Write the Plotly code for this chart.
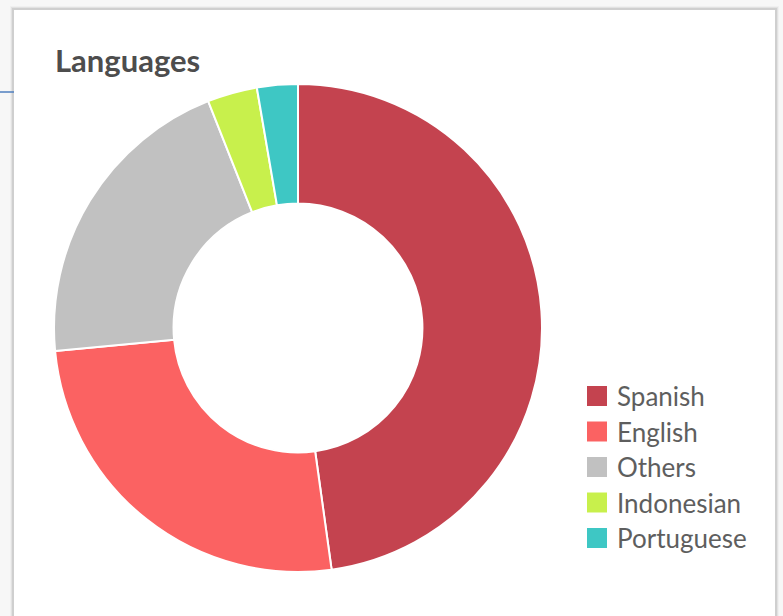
import plotly.graph_objects as go

languages = ["Spanish", "English", "Others", "Indonesian", "Portuguese"]
shares = [47.8, 25.7, 20.5, 3.3, 2.7]
colors = ["#c4434f", "#fb6262", "#c1c1c1", "#c8f04c", "#3ec7c4"]

W, H = 783, 616
cx, cy, r = 298, 328, 244

fig = go.Figure(go.Pie(
    labels=languages,
    values=shares,
    sort=False,
    direction="clockwise",
    rotation=0,
    hole=0.51,
    textinfo="none",
    showlegend=False,
    marker=dict(colors=colors, line=dict(color="white", width=2)),
    domain=dict(x=[(cx - r) / W, (cx + r) / W], y=[(H - cy - r) / H, (H - cy + r) / H]),
))

shapes = []
# card shadow
for i, c in enumerate(["#f0f0f0", "#e2e2e2", "#cfcfcf"]):
    d = 3 - i
    shapes.append(dict(type="rect", xref="paper", yref="paper",
                       x0=(14 - d) / W, x1=(775 + d) / W, y0=-0.05, y1=(H - 10 + d) / H,
                       line=dict(color=c, width=2), fillcolor="rgba(0,0,0,0)", layer="below"))
shapes.append(dict(type="rect", xref="paper", yref="paper",
                   x0=14 / W, x1=775 / W, y0=-0.05, y1=(H - 10) / H,
                   line=dict(width=0), fillcolor="white", layer="below"))
shapes.append(dict(type="line", xref="paper", yref="paper",
                   x0=0, x1=14 / W, y0=(H - 92) / H, y1=(H - 92) / H,
                   line=dict(color="#4f7fbf", width=1.5)))

annotations = [dict(text="<b>Languages</b>", xref="paper", yref="paper",
                    x=53 / W, y=(H - 60) / H, xanchor="left", yanchor="middle",
                    showarrow=False, font=dict(size=31, color="#4d4d4d", family="Lato"))]

# legend (drawn from the data arrays)
leg_x0, leg_y0, leg_step, sq = 587, 396, 35.5, 20
for i, (name, col) in enumerate(zip(languages, colors)):
    yc = leg_y0 + i * leg_step
    shapes.append(dict(type="rect", xref="paper", yref="paper",
                       x0=leg_x0 / W, x1=(leg_x0 + sq) / W,
                       y0=(H - yc - sq / 2) / H, y1=(H - yc + sq / 2) / H,
                       line=dict(width=0), fillcolor=col))
    annotations.append(dict(text=name, xref="paper", yref="paper",
                            x=615 / W, y=(H - yc) / H, xanchor="left", yanchor="middle",
                            showarrow=False,
                            font=dict(size=26, color="#5e5e5e", family="Lato")))

fig.update_layout(
    width=W, height=H,
    margin=dict(l=0, r=0, t=0, b=0),
    paper_bgcolor="#f7f7f7",
    plot_bgcolor="white",
    font=dict(family="Lato, 'Open Sans', sans-serif", color="#555555"),
    showlegend=False,
    shapes=shapes,
    annotations=annotations,
)

fig.write_html("out.html", config={"displayModeBar": False},
               post_script="document.body.style.margin='0';")
